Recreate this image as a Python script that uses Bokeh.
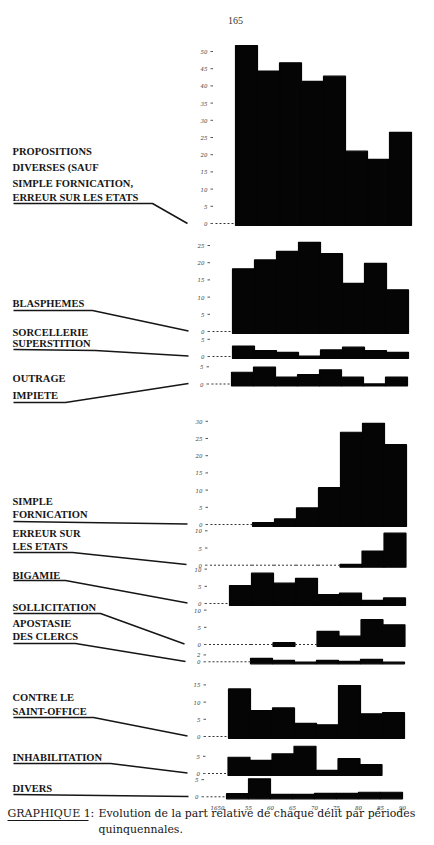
from bokeh.plotting import figure
from bokeh.models import Range1d
from bokeh.embed import file_html
from bokeh.resources import INLINE
from bokeh.core.properties import value

# ------------------------------------------------------------------ data
period_start = [1650, 1655, 1660, 1665, 1670, 1675, 1680, 1685]
period_length = 5
year_ticks = [1650, 1655, 1660, 1665, 1670, 1675, 1680, 1685, 1690]
year_tick_labels = ["1650", "55", "60", "65", "70", "75", "80", "85", "90"]

propositions = [52.3, 44.9, 47.3, 41.9, 43.4, 21.6, 19.2, 27.1]
blasphemes = [18.8, 21.4, 23.9, 26.5, 23.2, 14.6, 20.4, 12.7]
sorcellerie = [3.6, 2.3, 1.8, 0.7, 2.5, 3.3, 2.3, 1.8]
outrage = [4.0, 5.5, 2.6, 3.3, 4.7, 2.6, 0.6, 2.6]
simple_fornication = [0, 1.1, 2.2, 5.4, 11.3, 27.4, 30.0, 23.8]
erreur_etats = [0, 0, 0, 0, 0, 0.8, 4.7, 9.9]
bigamie = [5.8, 9.4, 6.5, 7.9, 3.2, 3.6, 1.5, 2.2]
sollicitation = [0, 0, 1.1, 0, 4.4, 3.0, 7.8, 6.3]
apostasie = [0, 1.6, 1.0, 0.5, 1.0, 0.7, 1.3, 0.5]
contre_saint_office = [14.4, 8.1, 8.9, 4.4, 4.0, 15.4, 7.2, 7.5]
inhabilitation = [5.3, 4.4, 6.3, 8.5, 1.5, 4.9, 3.2, None]
divers = [1.5, 5.8, 1.3, 1.3, 1.6, 1.6, 1.9, 1.9]

panel_values = [propositions, blasphemes, sorcellerie, outrage,
                simple_fornication, erreur_etats, bigamie, sollicitation,
                apostasie, contre_saint_office, inhabilitation, divers]

panel_names = [
    ["PROPOSITIONS", "DIVERSES (SAUF", "SIMPLE FORNICATION,", "ERREUR SUR LES ETATS"],
    ["BLASPHEMES"],
    ["SORCELLERIE", "SUPERSTITION"],
    ["OUTRAGE", "IMPIETE"],
    ["SIMPLE", "FORNICATION"],
    ["ERREUR SUR", "LES ETATS"],
    ["BIGAMIE"],
    ["SOLLICITATION"],
    ["APOSTASIE", "DES CLERCS"],
    ["CONTRE LE", "SAINT-OFFICE"],
    ["INHABILITATION"],
    ["DIVERS"],
]

panel_ticks = [
    [0, 5, 10, 15, 20, 25, 30, 35, 40, 45, 50],
    [0, 5, 10, 15, 20, 25],
    [0, 5],
    [0, 5],
    [0, 5, 10, 15, 20, 25, 30],
    [0, 5, 10],
    [0, 5, 10],
    [0, 5, 10],
    [0, 2],
    [0, 5, 10, 15],
    [0, 5],
    [0, 5],
]

page_number = "165"
caption_head = "GRAPHIQUE 1"
caption_line1 = "Evolution de la part relative de chaque délit par périodes"
caption_line2 = "quinquennales."

# ------------------------------------------------------------------ layout (pixels of the page)
W, H = 426, 837
SX = 4.4      # px per year
SY = 3.44     # px per percentage point
X1650 = 230.5  # page x of 1650 (middle of page)

panel_base_px = [225, 333, 358, 385.5, 526, 566.7, 605, 646, 663.3, 738, 775, 798.3]
panel_shift_px = [4.5, 1.5, 1.5, 0.5, -0.5, -1, -1.5, -2, -2.5, -2.5, -3, -4.5]
label_y_px = [[151, 167, 183, 197], [303], [332, 343], [378, 395], [501, 514],
              [533, 546], [575], [607], [623, 636], [697, 711], [757], [788]]
leaders_px = [
    [(13, 203), (152, 203), (187, 223)],
    [(13, 310), (92, 310), (188, 330.5)],
    [(13, 349), (95, 350), (188, 355.5)],
    [(13, 402), (65, 402), (188, 383)],
    [(13, 521), (187, 523.5)],
    [(13, 552), (72, 552), (186, 564)],
    [(13, 580), (65, 580), (187, 602.5)],
    [(13, 613), (100, 613), (184, 643.5)],
    [(13, 643), (75, 643), (185, 661)],
    [(13, 717), (93, 717), (187, 735.5)],
    [(13, 763), (110, 763), (187, 772.5)],
    [(13, 794), (188, 796)],
]

x_start = 1650 - X1650 / SX
x_end = x_start + W / SX
y_start, y_end = 0, H / SY


def X(px):
    return x_start + px / SX


def Y(py):
    return (H - py) / SY


p = figure(width=W, height=H, output_backend="svg", toolbar_location=None,
           x_range=Range1d(x_start, x_end), y_range=Range1d(y_start, y_end),
           min_border=0, min_border_left=0, min_border_right=0,
           min_border_top=0, min_border_bottom=0)
p.axis.visible = False
p.grid.visible = False
p.outline_line_color = None
p.background_fill_color = "white"
p.border_fill_color = "white"

INK = "#161616"
SERIF = value("Liberation Serif")

bl, br, bb, bt = [], [], [], []
dx0, dx1, dy = [], [], []
tx, ty, tt = [], [], []
mx0, mx1, my = [], [], []
for i, vals in enumerate(panel_values):
    shift = panel_shift_px[i] / SX
    base = Y(panel_base_px[i])
    zero = base + 2.0 / SY
    # bars
    for s, v in zip(period_start, vals):
        if v:
            bl.append(s + shift)
            br.append(s + period_length + shift)
            bb.append(base)
            bt.append(base + v)
    # dotted zero line: lead-in and empty periods
    dx0.append(1650 + shift - 20 / SX)
    dx1.append(1650 + shift)
    dy.append(zero)
    for s, v in zip(period_start, vals):
        if v == 0:
            dx0.append(s + shift)
            dx1.append(s + period_length + shift)
            dy.append(zero)
    # tick labels and tick dashes
    for t in panel_ticks[i]:
        tx.append(1650 + shift - 28 / SX)
        ty.append(zero + t)
        tt.append(str(t))
        mx0.append(1650 + shift - 25 / SX)
        mx1.append(1650 + shift - 22.5 / SX)
        my.append(zero + t)

p.quad(left=bl, right=br, bottom=bb, top=bt, fill_color="#050505",
       line_color="#050505", line_width=1.2)
p.segment(x0=dx0, y0=dy, x1=dx1, y1=dy, line_color="#333333",
          line_width=1, line_dash="2 2")
p.segment(x0=mx0, y0=my, x1=mx1, y1=my, line_color="#555555", line_width=1)
p.text(x=tx, y=ty, text=tt, text_font=value("DejaVu Serif"),
       text_font_size="5.5px", text_align="right", text_baseline="middle",
       text_color="#444444", text_font_style="italic")

# category labels
lx, ly, lt = [], [], []
for names, ys in zip(panel_names, label_y_px):
    for n, yy in zip(names, ys):
        lx.append(X(12))
        ly.append(Y(yy))
        lt.append(n)
p.text(x=lx, y=ly, text=lt, text_font=SERIF, text_font_size="10.5px",
       text_font_style="bold", text_align="left", text_baseline="middle",
       text_color=INK)

# leader lines
p.multi_line(xs=[[X(a) for a, b in pts] for pts in leaders_px],
             ys=[[Y(b) for a, b in pts] for pts in leaders_px],
             line_color=INK, line_width=1.5)

# x labels (years)
xshift = panel_shift_px[-1] / SX
p.text(x=[yr + xshift for yr in year_ticks], y=[Y(807)] * len(year_ticks),
       text=year_tick_labels, text_font=value("DejaVu Serif"),
       text_font_size="5.5px", text_font_style="italic",
       text_align="center", text_baseline="middle", text_color="#333333",
       x_offset=[-9] + [0] * (len(year_ticks) - 1))

# page number
p.text(x=[X(235)], y=[Y(20)], text=[page_number], text_font=SERIF,
       text_font_size="10px", text_align="center", text_baseline="middle",
       text_color="#333333")

# caption
p.text(x=[X(7)], y=[Y(813)], text=[caption_head], text_font=value("DejaVu Serif"),
       text_font_size="11px", text_align="left", text_baseline="middle",
       text_color=INK)
p.segment(x0=[X(7)], y0=[Y(820)], x1=[X(88)], y1=[Y(820)], line_color=INK,
          line_width=1)
p.text(x=[X(90)], y=[Y(813)], text=[":"], text_font=value("DejaVu Serif"),
       text_font_size="11px", text_align="left", text_baseline="middle",
       text_color=INK)
p.text(x=[X(98), X(98)], y=[Y(813), Y(829)], text=[caption_line1, caption_line2],
       text_font=value("DejaVu Serif"), text_font_size="10.9px",
       text_align="left", text_baseline="middle", text_color=INK)

open("out.html", "w").write(file_html(p, INLINE))
